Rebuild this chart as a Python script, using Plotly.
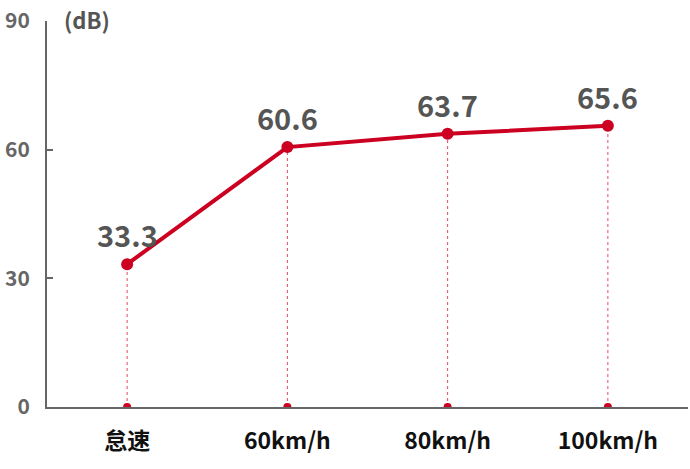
import plotly.graph_objects as go

categories = ["怠速", "60km/h", "80km/h", "100km/h"]
values = [33.3, 60.6, 63.7, 65.6]
y_ticks = [0, 30, 60, 90]
unit_label = "(dB)"

RED = "#cc0020"
GRAY_TEXT = "#555555"
AXIS = "#666666"
FONT = "Noto Sans CJK SC"

x_idx = list(range(len(categories)))

fig = go.Figure()

# dotted drop lines
for i, v in zip(x_idx, values):
    fig.add_trace(go.Scatter(x=[i, i], y=[0, v], mode="lines",
                             line=dict(color="#e8485a", width=1, dash="dot"),
                             hoverinfo="skip", showlegend=False))

# main line
fig.add_trace(go.Scatter(x=x_idx, y=values, mode="lines+markers",
                         line=dict(color=RED, width=4),
                         marker=dict(color=RED, size=12),
                         showlegend=False))

# base dots
fig.add_trace(go.Scatter(x=x_idx, y=[0] * len(x_idx), mode="markers",
                         marker=dict(color=RED, size=8),
                         cliponaxis=True, showlegend=False, hoverinfo="skip"))

annotations = [dict(x=0, y=1, xref="paper", yref="paper", text=unit_label,
                    showarrow=False, xanchor="left", yanchor="middle", xshift=15, yshift=2,
                    font=dict(family=FONT, size=22, color=GRAY_TEXT, weight="bold"))]
for i, v in zip(x_idx, values):
    annotations.append(dict(x=i, y=v, xref="x", yref="y", text=f"{v:.1f}",
                            showarrow=False, xanchor="center", yanchor="middle", yshift=30,
                            font=dict(family=FONT, size=29, color=GRAY_TEXT, weight="bold")))

fig.update_layout(
    width=690, height=469,
    margin=dict(l=47, r=2, t=21, b=62, autoexpand=False),
    plot_bgcolor="white", paper_bgcolor="white",
    xaxis=dict(range=[-0.5, 3.5], tickmode="array", tickvals=x_idx, ticktext=categories,
               showgrid=False, zeroline=False, showline=True, linecolor=AXIS, linewidth=2,
               ticks="", ticklabelstandoff=12, automargin=False,
               tickfont=dict(family=FONT, size=23, color="#111111", weight="bold"),
               fixedrange=True),
    yaxis=dict(range=[0, 90], tickmode="array", tickvals=y_ticks,
               showgrid=False, zeroline=False, showline=True, linecolor=AXIS, linewidth=2,
               ticks="inside", ticklen=6, tickcolor=AXIS, tickwidth=2,
               ticklabelstandoff=11, automargin=False, ticklabeloverflow="allow",
               tickfont=dict(family=FONT, size=21, color=AXIS, weight="bold"),
               fixedrange=True),
    annotations=annotations,
)

fig.write_html("out.html", config={"displayModeBar": False},
               post_script="document.body.style.margin='0px';")
